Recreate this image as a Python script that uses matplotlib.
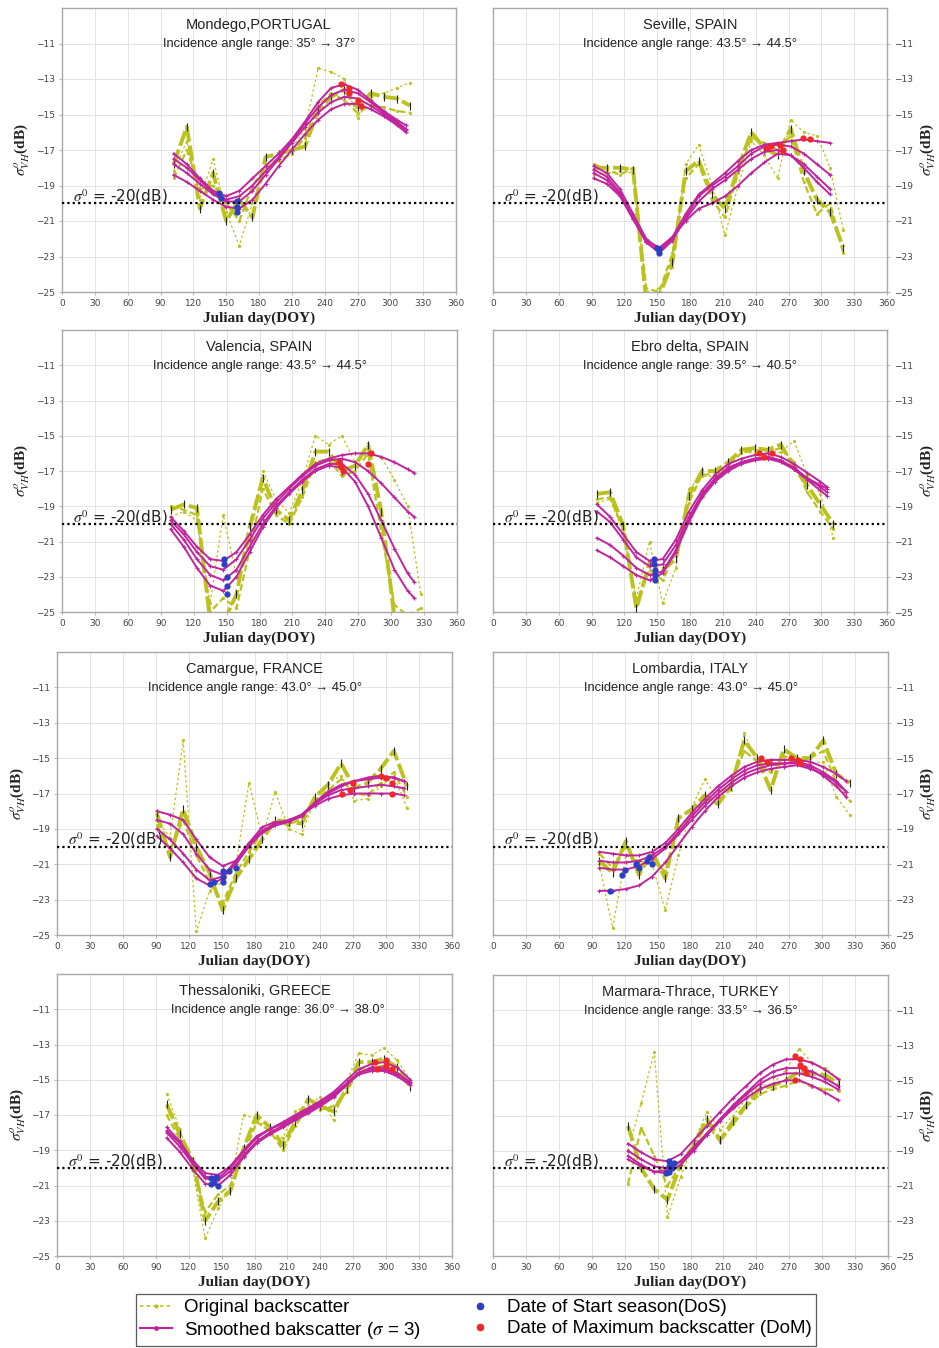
import matplotlib
matplotlib.use("Agg")
import matplotlib.pyplot as plt
from matplotlib.lines import Line2D

plt.rcParams["mathtext.fontset"] = "stix"

# ---------------- DATA ----------------
# Mondego, PORTUGAL
mondego_doy = [102, 114, 126, 138, 150, 162, 174, 186, 198, 210, 222, 234, 246, 258, 270, 282, 294, 306, 318]
mondego_orig_a = [-17.8, -15.7, -20.3, -18.3, -21.0, -19.8, -20.8, -17.4, -17.2, -17.0, -16.8, -14.8, -14.0, -13.6, -14.6, -13.8, -14.0, -14.1, -14.5]
mondego_orig_b = [-18.2, -16.5, -19.8, -17.5, -20.5, -22.4, -20.0, -17.8, -17.5, -16.9, -15.8, -12.4, -12.6, -13.0, -15.2, -14.0, -13.8, -13.5, -13.2]
mondego_orig_c = [-18.6, -17.0, -19.2, -19.0, -20.0, -21.0, -19.0, -18.0, -17.6, -17.2, -16.3, -14.5, -13.8, -14.2, -14.9, -14.5, -14.6, -14.8, -14.9]
mondego_sdoy = [102, 114, 126, 138, 150, 162, 174, 186, 198, 210, 222, 234, 246, 258, 270, 282, 294, 306, 314]
mondego_s1 = [-17.2, -17.8, -18.6, -19.3, -19.6, -19.3, -18.6, -17.9, -17.2, -16.4, -15.4, -14.3, -13.5, -13.3, -13.6, -14.2, -14.8, -15.3, -15.6]
mondego_s2 = [-17.8, -18.3, -18.9, -19.5, -19.9, -19.9, -19.3, -18.4, -17.5, -16.6, -15.7, -14.9, -14.3, -14.0, -14.1, -14.5, -15.0, -15.5, -15.9]
mondego_s3 = [-18.4, -18.8, -19.3, -19.8, -20.2, -20.3, -19.8, -18.9, -17.9, -17.0, -16.1, -15.3, -14.7, -14.4, -14.4, -14.7, -15.1, -15.6, -16.0]
mondego_s4 = [-17.5, -18.0, -18.7, -19.4, -19.8, -19.6, -19.0, -18.2, -17.4, -16.5, -15.5, -14.6, -13.9, -13.6, -13.8, -14.3, -14.9, -15.4, -15.8]
mondego_dos_x = [143, 145, 160, 160, 160]
mondego_dos_y = [-19.4, -19.7, -19.9, -20.2, -20.5]
mondego_dom_x = [255, 262, 262, 270, 273]
mondego_dom_y = [-13.3, -13.5, -13.8, -14.2, -14.5]

# Seville, SPAIN
seville_doy = [92, 104, 116, 128, 140, 152, 164, 176, 188, 200, 212, 224, 236, 248, 260, 272, 284, 296, 308, 320]
seville_orig_a = [-18.0, -18.0, -18.0, -18.1, -25.5, -25.2, -23.3, -18.2, -17.6, -19.5, -20.3, -18.0, -16.0, -16.9, -17.3, -15.8, -18.2, -19.8, -20.5, -22.5]
seville_orig_b = [-18.4, -18.3, -18.2, -18.3, -25.0, -24.8, -23.6, -17.8, -16.7, -19.0, -21.8, -19.0, -16.5, -17.3, -18.6, -15.3, -16.0, -16.2, -18.0, -21.5]
seville_orig_c = [-17.8, -18.1, -18.4, -18.0, -24.8, -25.0, -22.8, -18.6, -17.8, -19.8, -20.8, -18.3, -16.3, -16.6, -17.0, -16.2, -18.8, -20.6, -20.0, -22.8]
seville_sdoy = [92, 104, 116, 128, 140, 152, 164, 176, 188, 200, 212, 224, 236, 248, 260, 272, 284, 296, 308]
seville_s1 = [-17.9, -18.3, -19.2, -20.6, -22.0, -22.6, -21.9, -20.6, -19.5, -18.9, -18.3, -17.6, -17.0, -16.7, -16.6, -16.5, -16.4, -16.5, -16.6]
seville_s2 = [-18.1, -18.5, -19.4, -20.8, -22.2, -22.8, -22.1, -20.8, -19.6, -19.0, -18.5, -17.9, -17.2, -16.8, -16.7, -16.8, -17.2, -17.8, -18.4]
seville_s3 = [-18.3, -18.7, -19.5, -20.9, -22.2, -22.7, -22.0, -20.9, -19.9, -19.2, -18.7, -18.1, -17.5, -17.1, -17.0, -17.3, -18.0, -18.8, -19.5]
seville_s4 = [-18.6, -18.9, -19.6, -20.9, -22.1, -22.5, -21.9, -21.0, -20.3, -20.0, -19.6, -19.0, -18.3, -17.7, -17.2, -17.3, -17.8, -18.5, -19.2]
seville_dos_x = [150, 152, 152]
seville_dos_y = [-22.5, -22.6, -22.8]
seville_dom_x = [250, 254, 262, 265, 283, 290]
seville_dom_y = [-16.9, -16.8, -16.7, -17.0, -16.3, -16.4]

# Valencia, SPAIN
valencia_doy = [99, 111, 123, 135, 147, 159, 171, 183, 195, 207, 219, 231, 243, 255, 267, 279, 291, 303, 315, 327]
valencia_orig_a = [-19.2, -18.9, -19.1, -25.5, -25.6, -24.0, -20.2, -17.4, -19.2, -19.8, -18.1, -15.9, -15.9, -17.0, -16.7, -15.5, -19.3, -25.3, -25.5, -25.6]
valencia_orig_b = [-19.6, -19.3, -19.8, -24.5, -19.5, -23.0, -21.0, -17.0, -18.6, -19.4, -17.5, -15.0, -15.5, -15.0, -16.5, -16.0, -16.2, -17.5, -19.0, -24.0]
valencia_orig_c = [-19.0, -19.2, -19.5, -25.0, -24.2, -24.8, -21.5, -18.0, -19.5, -20.0, -18.5, -16.5, -16.3, -17.3, -17.0, -16.0, -20.5, -24.6, -25.2, -24.8]
valencia_sdoy = [99, 111, 123, 135, 147, 159, 171, 183, 195, 207, 219, 231, 243, 255, 267, 279, 291, 303, 315, 321]
valencia_s1 = [-19.6, -20.4, -21.3, -22.0, -22.1, -21.6, -20.6, -19.5, -18.6, -17.9, -17.2, -16.6, -16.3, -16.1, -16.0, -16.0, -16.2, -16.5, -16.9, -17.1]
valencia_s2 = [-19.8, -20.6, -21.6, -22.4, -22.6, -22.0, -20.9, -19.7, -18.8, -18.0, -17.3, -16.7, -16.4, -16.3, -16.5, -17.0, -17.7, -18.5, -19.3, -19.6]
valencia_s3 = [-20.0, -20.9, -22.0, -22.9, -23.2, -22.6, -21.3, -20.0, -19.0, -18.2, -17.5, -16.9, -16.6, -16.6, -17.2, -18.3, -19.8, -21.4, -22.8, -23.3]
valencia_s4 = [-20.3, -21.3, -22.5, -23.5, -23.8, -23.0, -21.6, -20.2, -19.1, -18.3, -17.6, -17.0, -16.7, -16.8, -17.6, -19.0, -20.8, -22.6, -23.8, -24.2]
valencia_dos_x = [148, 148, 150, 150, 150]
valencia_dos_y = [-22.0, -22.3, -23.0, -23.5, -24.0]
valencia_dom_x = [252, 254, 256, 279, 282]
valencia_dom_y = [-16.5, -16.8, -17.0, -16.6, -16.0]

# Ebro delta, SPAIN
ebro_doy = [95, 107, 119, 131, 143, 155, 167, 179, 191, 203, 215, 227, 239, 251, 263, 275, 287, 299, 311]
ebro_orig_a = [-18.3, -18.2, -20.1, -24.8, -22.2, -22.6, -22.0, -18.4, -17.0, -17.0, -16.5, -15.8, -15.7, -15.8, -15.5, -16.8, -17.8, -18.9, -20.0]
ebro_orig_b = [-18.8, -18.6, -20.5, -24.2, -21.0, -24.5, -22.5, -18.0, -17.3, -17.3, -16.7, -15.9, -16.0, -16.2, -15.9, -15.3, -17.2, -18.3, -20.8]
ebro_orig_c = [-18.6, -18.5, -20.3, -24.5, -22.6, -23.2, -21.6, -18.8, -17.2, -17.2, -16.6, -16.0, -15.8, -15.9, -15.7, -16.5, -18.2, -19.3, -20.3]
ebro_sdoy = [95, 107, 119, 131, 143, 155, 167, 179, 191, 203, 215, 227, 239, 251, 263, 275, 287, 299, 305]
ebro_s1 = [-18.9, -19.6, -20.6, -21.6, -22.1, -22.0, -20.9, -19.3, -18.1, -17.2, -16.6, -16.3, -16.1, -16.0, -16.2, -16.6, -17.1, -17.6, -17.9]
ebro_s2 = [-19.3, -19.9, -20.9, -21.9, -22.4, -22.3, -21.2, -19.6, -18.3, -17.4, -16.8, -16.5, -16.3, -16.2, -16.4, -16.9, -17.5, -18.1, -18.4]
ebro_s3 = [-20.8, -21.2, -21.8, -22.5, -22.9, -22.7, -21.5, -19.8, -18.4, -17.5, -16.9, -16.5, -16.3, -16.2, -16.4, -16.8, -17.4, -17.9, -18.2]
ebro_s4 = [-21.5, -21.9, -22.4, -22.9, -23.2, -22.8, -21.6, -19.9, -18.5, -17.6, -17.0, -16.6, -16.4, -16.3, -16.5, -16.9, -17.4, -17.8, -18.0]
ebro_dos_x = [147, 147, 148, 148, 148]
ebro_dos_y = [-22.0, -22.3, -22.6, -22.9, -23.2]
ebro_dom_x = [243, 248, 255]
ebro_dom_y = [-16.0, -16.2, -16.0]

# Camargue, FRANCE
camargue_doy = [91, 103, 115, 127, 139, 151, 163, 175, 187, 199, 211, 223, 235, 247, 259, 271, 283, 295, 307, 319]
camargue_orig_a = [-18.1, -20.6, -17.9, -20.0, -21.5, -23.6, -21.8, -20.7, -19.6, -18.5, -18.6, -18.7, -17.2, -16.5, -15.3, -16.7, -16.4, -15.6, -14.6, -16.6]
camargue_orig_b = [-18.5, -19.5, -14.0, -24.8, -22.5, -22.0, -21.0, -16.4, -19.5, -16.9, -19.0, -19.3, -17.3, -16.4, -16.0, -17.4, -17.3, -16.6, -16.0, -17.8]
camargue_orig_c = [-18.8, -20.2, -18.5, -20.5, -22.0, -23.2, -21.5, -20.3, -19.2, -18.6, -18.8, -18.4, -17.4, -16.8, -16.2, -17.0, -17.1, -16.4, -15.8, -17.2]
camargue_sdoy = [91, 103, 115, 127, 139, 151, 163, 175, 187, 199, 211, 223, 235, 247, 259, 271, 283, 295, 307, 316]
camargue_s1 = [-18.0, -18.2, -18.5, -19.6, -20.6, -21.1, -20.8, -19.8, -18.9, -18.6, -18.6, -18.2, -17.5, -16.9, -16.5, -16.3, -16.2, -16.1, -16.1, -16.3]
camargue_s2 = [-18.5, -18.7, -19.3, -20.4, -21.3, -21.6, -21.0, -20.0, -19.2, -18.8, -18.6, -18.3, -17.6, -17.1, -16.8, -16.7, -16.6, -16.5, -16.6, -16.7]
camargue_s3 = [-19.0, -19.6, -20.4, -21.3, -21.9, -21.7, -20.8, -19.8, -19.1, -18.7, -18.5, -18.2, -17.7, -17.3, -17.1, -17.0, -17.0, -17.0, -17.0, -17.1]
camargue_s4 = [-19.4, -20.1, -20.9, -21.8, -22.2, -21.8, -20.9, -19.9, -19.2, -18.8, -18.6, -18.2, -17.6, -17.0, -16.6, -16.3, -16.1, -16.0, -16.1, -16.3]
camargue_dos_x = [139, 143, 151, 151, 151, 157, 163]
camargue_dos_y = [-22.1, -22.0, -22.0, -21.7, -21.4, -21.4, -21.2]
camargue_dom_x = [260, 267, 270, 295, 300, 305, 305]
camargue_dom_y = [-17.0, -16.8, -16.4, -16.0, -16.1, -16.4, -17.0]

# Lombardia, ITALY
lombardia_doy = [97, 109, 121, 133, 145, 157, 169, 181, 193, 205, 217, 229, 241, 253, 265, 277, 289, 301, 313, 325]
lombardia_orig_a = [-20.8, -21.5, -19.7, -21.6, -20.3, -21.8, -18.4, -17.9, -17.1, -17.6, -16.6, -14.0, -15.0, -16.8, -14.5, -15.0, -15.0, -14.0, -15.9, -16.4]
lombardia_orig_b = [-21.0, -24.6, -20.5, -20.8, -21.0, -23.6, -20.5, -17.8, -16.2, -17.3, -16.8, -13.6, -15.3, -15.2, -15.4, -15.0, -15.3, -15.2, -17.2, -18.2]
lombardia_orig_c = [-20.4, -21.2, -20.0, -21.0, -20.8, -21.4, -19.0, -18.2, -17.4, -17.3, -16.4, -14.6, -15.2, -15.8, -14.9, -15.1, -15.0, -14.6, -16.4, -17.4]
lombardia_sdoy = [97, 109, 121, 133, 145, 157, 169, 181, 193, 205, 217, 229, 241, 253, 265, 277, 289, 301, 313, 322]
lombardia_s1 = [-20.3, -20.4, -20.5, -20.5, -20.3, -19.8, -19.0, -18.1, -17.3, -16.6, -16.0, -15.5, -15.2, -15.1, -15.1, -15.1, -15.2, -15.5, -15.9, -16.3]
lombardia_s2 = [-20.8, -20.9, -20.9, -20.8, -20.5, -20.0, -19.2, -18.3, -17.5, -16.8, -16.2, -15.7, -15.4, -15.3, -15.3, -15.2, -15.4, -15.8, -16.3, -16.9]
lombardia_s3 = [-21.2, -21.3, -21.3, -21.1, -20.7, -20.1, -19.3, -18.5, -17.7, -17.0, -16.4, -15.9, -15.6, -15.4, -15.3, -15.3, -15.5, -16.0, -16.6, -17.2]
lombardia_s4 = [-22.5, -22.5, -22.4, -22.2, -21.7, -20.9, -19.9, -18.9, -18.0, -17.2, -16.6, -16.1, -15.8, -15.6, -15.5, -15.4, -15.6, -15.9, -16.4, -16.9]
lombardia_dos_x = [107, 118, 120, 130, 133, 140, 142, 145]
lombardia_dos_y = [-22.5, -21.6, -21.3, -21.0, -21.2, -20.8, -20.6, -21.0]
lombardia_dom_x = [244, 250, 272, 278, 280]
lombardia_dom_y = [-15.0, -15.2, -15.0, -15.1, -15.3]

# Thessaloniki, GREECE
thess_doy = [100, 112, 124, 135, 147, 158, 170, 182, 194, 206, 217, 229, 240, 252, 264, 275, 287, 298, 310, 322]
thess_orig_a = [-16.4, -18.1, -19.6, -23.0, -21.9, -21.3, -18.9, -17.0, -17.7, -18.7, -17.4, -16.1, -16.5, -16.8, -15.5, -14.0, -14.0, -13.8, -14.3, -15.4]
thess_orig_b = [-15.8, -17.8, -20.2, -24.0, -22.3, -21.0, -17.0, -17.2, -18.0, -18.3, -16.8, -16.4, -16.0, -17.3, -15.1, -13.5, -13.6, -13.2, -13.9, -15.0]
thess_orig_c = [-17.0, -18.4, -19.9, -22.5, -21.5, -21.0, -19.3, -17.4, -17.9, -19.0, -17.6, -16.6, -16.7, -16.5, -15.7, -14.4, -14.3, -14.2, -14.6, -15.3]
thess_sdoy = [100, 112, 124, 135, 147, 158, 170, 182, 194, 206, 217, 229, 240, 252, 264, 275, 287, 298, 310, 322]
thess_s1 = [-17.7, -18.5, -19.6, -20.3, -20.4, -19.9, -19.0, -18.2, -17.8, -17.4, -17.0, -16.6, -16.2, -15.7, -15.0, -14.4, -14.1, -14.0, -14.3, -15.0]
thess_s2 = [-18.0, -18.8, -19.8, -20.6, -20.7, -20.2, -19.3, -18.5, -18.0, -17.6, -17.2, -16.8, -16.4, -15.9, -15.2, -14.6, -14.3, -14.3, -14.6, -15.2]
thess_s3 = [-18.3, -19.1, -20.1, -20.9, -21.0, -20.4, -19.4, -18.6, -18.1, -17.7, -17.3, -16.9, -16.5, -16.0, -15.3, -14.7, -14.5, -14.5, -14.8, -15.3]
thess_s4 = [-17.9, -18.6, -19.7, -20.5, -20.6, -20.0, -19.1, -18.3, -17.8, -17.5, -17.1, -16.7, -16.3, -15.8, -15.2, -14.6, -14.4, -14.4, -14.7, -15.1]
thess_dos_x = [140, 140, 143, 145, 147]
thess_dos_y = [-20.6, -20.9, -20.8, -20.5, -21.0]
thess_dom_x = [290, 292, 300, 300, 305]
thess_dom_y = [-14.0, -14.4, -13.9, -14.2, -14.4]

# Marmara-Thrace, TURKEY
marmara_doy = [123, 135, 147, 159, 171, 183, 195, 207, 219, 231, 243, 255, 267, 279, 291, 303, 315]
marmara_orig_a = [-17.6, -20.0, -21.2, -21.8, -19.8, -18.7, -17.2, -18.4, -17.3, -16.4, -15.5, -15.3, -15.0, -14.5, -14.6, -14.7, -15.2]
marmara_orig_b = [-19.0, -16.3, -13.4, -22.8, -20.5, -18.5, -16.8, -17.8, -17.0, -16.0, -15.3, -15.2, -14.4, -13.2, -14.0, -14.3, -14.9]
marmara_orig_c = [-20.9, -17.7, -19.3, -21.0, -19.8, -18.8, -17.5, -18.5, -17.5, -16.5, -15.8, -15.5, -15.3, -15.0, -15.4, -15.5, -15.6]
marmara_sdoy = [123, 135, 147, 159, 171, 183, 195, 207, 219, 231, 243, 255, 267, 279, 291, 303, 314]
marmara_s1 = [-18.6, -19.1, -19.5, -19.6, -19.2, -18.4, -17.6, -16.8, -16.0, -15.3, -14.6, -14.1, -13.8, -13.8, -14.0, -14.4, -14.9]
marmara_s2 = [-19.0, -19.5, -19.9, -20.0, -19.6, -18.8, -18.0, -17.2, -16.4, -15.7, -15.0, -14.5, -14.3, -14.3, -14.5, -14.9, -15.3]
marmara_s3 = [-19.3, -19.8, -20.2, -20.3, -19.8, -19.0, -18.1, -17.3, -16.5, -15.8, -15.2, -14.8, -14.6, -14.6, -14.8, -15.1, -15.5]
marmara_s4 = [-19.5, -19.9, -20.2, -20.1, -19.6, -18.9, -18.1, -17.3, -16.6, -16.0, -15.5, -15.2, -15.0, -15.0, -15.3, -15.7, -16.1]
marmara_dos_x = [158, 160, 160, 160, 163, 165]
marmara_dos_y = [-20.3, -19.6, -19.9, -20.2, -20.0, -19.7]
marmara_dom_x = [275, 275, 280, 280, 283, 285]
marmara_dom_y = [-13.6, -15.0, -13.8, -14.1, -14.3, -14.6]

site_names = ["Mondego,PORTUGAL", "Seville, SPAIN", "Valencia, SPAIN", "Ebro delta, SPAIN",
              "Camargue, FRANCE", "Lombardia, ITALY", "Thessaloniki, GREECE", "Marmara-Thrace, TURKEY"]
angle_ranges = ["35\u00b0 \u2192 37\u00b0", "43.5\u00b0 \u2192 44.5\u00b0", "43.5\u00b0 \u2192 44.5\u00b0",
                "39.5\u00b0 \u2192 40.5\u00b0", "43.0\u00b0 \u2192 45.0\u00b0", "43.0\u00b0 \u2192 45.0\u00b0",
                "36.0\u00b0 \u2192 38.0\u00b0", "33.5\u00b0 \u2192 36.5\u00b0"]
x_ticks = [0, 30, 60, 90, 120, 150, 180, 210, 240, 270, 300, 330, 360]
y_ticks = [-25, -23, -21, -19, -17, -15, -13, -11]
threshold = -20

panels = [
    (mondego_doy, [mondego_orig_a, mondego_orig_b, mondego_orig_c], mondego_sdoy,
     [mondego_s1, mondego_s2, mondego_s3, mondego_s4], mondego_dos_x, mondego_dos_y, mondego_dom_x, mondego_dom_y),
    (seville_doy, [seville_orig_a, seville_orig_b, seville_orig_c], seville_sdoy,
     [seville_s1, seville_s2, seville_s3, seville_s4], seville_dos_x, seville_dos_y, seville_dom_x, seville_dom_y),
    (valencia_doy, [valencia_orig_a, valencia_orig_b, valencia_orig_c], valencia_sdoy,
     [valencia_s1, valencia_s2, valencia_s3, valencia_s4], valencia_dos_x, valencia_dos_y, valencia_dom_x, valencia_dom_y),
    (ebro_doy, [ebro_orig_a, ebro_orig_b, ebro_orig_c], ebro_sdoy,
     [ebro_s1, ebro_s2, ebro_s3, ebro_s4], ebro_dos_x, ebro_dos_y, ebro_dom_x, ebro_dom_y),
    (camargue_doy, [camargue_orig_a, camargue_orig_b, camargue_orig_c], camargue_sdoy,
     [camargue_s1, camargue_s2, camargue_s3, camargue_s4], camargue_dos_x, camargue_dos_y, camargue_dom_x, camargue_dom_y),
    (lombardia_doy, [lombardia_orig_a, lombardia_orig_b, lombardia_orig_c], lombardia_sdoy,
     [lombardia_s1, lombardia_s2, lombardia_s3, lombardia_s4], lombardia_dos_x, lombardia_dos_y, lombardia_dom_x, lombardia_dom_y),
    (thess_doy, [thess_orig_a, thess_orig_b, thess_orig_c], thess_sdoy,
     [thess_s1, thess_s2, thess_s3, thess_s4], thess_dos_x, thess_dos_y, thess_dom_x, thess_dom_y),
    (marmara_doy, [marmara_orig_a, marmara_orig_b, marmara_orig_c], marmara_sdoy,
     [marmara_s1, marmara_s2, marmara_s3, marmara_s4], marmara_dos_x, marmara_dos_y, marmara_dom_x, marmara_dom_y),
]

# ---------------- STYLE / LAYOUT ----------------
W, H = 939, 1348
OLIVE = "#bcc21c"
MAGENTA = "#c2249e"
BLUE = "#2b3fc4"
RED = "#f02828"
SANS = ["Liberation Sans", "DejaVu Sans"]
SERIF = ["Liberation Serif", "DejaVu Serif"]

# panel frames in pixels: (left, top, right, bottom)
frames = [
    (62, 8, 456, 292), (493, 8, 887, 292),
    (62, 330, 457, 612), (493, 330, 887, 612),
    (57, 652, 452, 935), (493, 652, 888, 935),
    (57, 974, 452, 1256), (493, 975, 888, 1256),
]
ylabel_x = [22, 928, 22, 928, 18, 928, 18, 928]

fig = plt.figure(figsize=(W / 100, H / 100), dpi=100)
fig.patch.set_facecolor("white")

for i, (doy, origs, sdoy, smooths, dx, dy, mx, my) in enumerate(panels):
    l, t, r, b = frames[i]
    ax = fig.add_axes([l / W, 1 - b / H, (r - l) / W, (b - t) / H])
    ax.set_xlim(0, 360)
    ax.set_ylim(-25, -9)
    ax.set_xticks(x_ticks)
    ax.set_yticks(y_ticks)
    ax.grid(True, color="#e4e4e4", lw=0.7)
    ax.set_axisbelow(True)
    for sp in ax.spines.values():
        sp.set_color("#a8a8a8")
        sp.set_linewidth(1.0)
    ax.tick_params(labelsize=6.5, labelcolor="#444444", length=2, color="#bbbbbb", pad=3)

    # original backscatter
    ax.plot(doy, origs[1], ls=(0, (2, 2)), lw=0.9, color=OLIVE, marker=".", ms=2.5, zorder=2)
    ax.plot(doy, origs[2], ls=(0, (3, 1.5)), lw=1.6, color=OLIVE, marker=".", ms=2.5, zorder=2)
    ax.plot(doy, origs[0], ls=(0, (4, 1)), lw=2.8, color=OLIVE, zorder=2)
    ax.plot(doy, origs[0], ls="none", marker="|", ms=6, mec="#222222", mew=0.8, zorder=3)

    # smoothed
    for s in smooths:
        ax.plot(sdoy, s, ls="-", lw=1.4, color=MAGENTA, marker="+", ms=3.5, mew=0.8, zorder=4)

    # DoS / DoM
    ax.plot(dx, dy, ls="none", marker="o", ms=3.5, color=BLUE, zorder=5)
    ax.plot(mx, my, ls="none", marker="o", ms=3.5, color=RED, zorder=5)

    # threshold
    ax.axhline(threshold, color="black", lw=1.6, ls=(0, (1, 1.4)), zorder=6)
    ax.text(10, threshold - 0.15, r"$\sigma^0$ = -20(dB)", fontsize=11, color="#222222",
            ha="left", va="bottom", zorder=7, family=["DejaVu Sans"])

    # titles
    ax.text(0.5, 0.94, site_names[i], transform=ax.transAxes, ha="center", va="center",
            fontsize=10.5, color="#222222", family=SANS)
    sx = 0.56 if i == 6 else 0.5
    ax.text(sx, 0.873, "Incidence angle range: " + angle_ranges[i], transform=ax.transAxes,
            ha="center", va="center", fontsize=9.3, color="#222222", family=SANS)

    ax.set_xlabel("Julian day(DOY)", family=SERIF, fontweight="bold", fontsize=11, color="#222222")
    ax.xaxis.set_label_coords(0.5, -0.068)

    if i % 2 == 1:
        ax.yaxis.tick_right()
    yc = 1 - (t + b) / 2 / H
    fig.text(ylabel_x[i] / W, yc, r"$\sigma^o_{VH}$(dB)", rotation=90, ha="center", va="center",
             family=SERIF, fontweight="bold", fontsize=11, color="#222222")

# legend
handles = [
    Line2D([], [], ls=(0, (2, 2)), lw=1.2, color=OLIVE, marker=".", ms=4),
    Line2D([], [], ls="-", lw=1.5, color=MAGENTA, marker=".", ms=5),
    Line2D([], [], ls="none", marker="o", ms=4.5, color=BLUE),
    Line2D([], [], ls="none", marker="o", ms=4.5, color=RED),
]
labels = ["Original backscatter", r"Smoothed bakscatter ($\sigma$ = 3)",
          "Date of Start season(DoS)", "Date of Maximum backscatter (DoM)"]
leg = fig.legend(handles, labels, ncol=2, loc="center", bbox_to_anchor=(476 / W, 1 - 1320 / H),
                 frameon=True, fancybox=False, edgecolor="#333333",
                 columnspacing=2.3, handlelength=1.7, handletextpad=0.6,
                 borderpad=0.25, labelspacing=0.2,
                 prop={"family": SANS, "size": 13.5})
leg.get_frame().set_linewidth(0.9)

fig.savefig("out.png", dpi=100, facecolor="white")
